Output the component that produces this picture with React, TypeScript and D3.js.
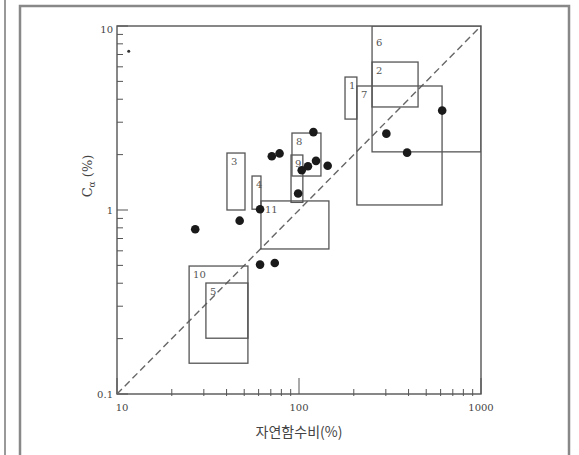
import React from 'react';
import * as d3 from 'd3';

// natural water content (%) and C-alpha (%) of the scattered points
const pointW = [26.9, 47.2, 61.1, 61.1, 73.6, 70.9, 78.2, 98.9, 103.5, 112, 124, 120, 143.7, 302, 392.6, 612];
const pointC = [0.786, 0.875, 1.01, 0.505, 0.515, 1.96, 2.03, 1.23, 1.645, 1.73, 1.85, 2.65, 1.74, 2.6, 2.05, 3.47];

// ranges for each soil deposit
const boxLabels = ['6', '2', '1', '7', '8', '9', '3', '4', '11', '10', '5'];
const boxWMin = [252, 252, 179, 208, 91.5, 90.4, 40.2, 55.2, 61.8, 24.9, 30.8];
const boxWMax = [1000, 451, 208, 611, 132, 105, 50.5, 61.8, 146, 52.4, 52.4];
const boxCMin = [2.07, 3.63, 3.12, 1.065, 1.53, 1.1, 1.0, 1.01, 0.614, 0.147, 0.201];
const boxCMax = [10, 6.37, 5.28, 4.72, 2.62, 1.99, 2.04, 1.53, 1.12, 0.496, 0.401];

// one odd tiny mark near the top left
const starW = [11.6];
const starC = [7.3];

const xTicks = [10, 100, 1000];
const xTickLabels = ['10', '100', '1000'];
const yTicks = [0.1, 1, 10];
const yTickLabels = ['0.1', '1', '10'];

const line = '#555';

export default function App() {
  const x = d3.scaleLog().domain([10, 1000]).range([117, 481]);
  const y = d3.scaleLog().domain([0.1, 10]).range([394, 26]);

  const xMinor: number[] = [];
  const yMinor: number[] = [];
  [10, 100].forEach(d => d3.range(2, 10).forEach(k => xMinor.push(d * k)));
  [0.1, 1].forEach(d => d3.range(2, 10).forEach(k => yMinor.push(d * k)));

  const [x0, x1] = x.range();
  const [y0, y1] = y.range();

  return (
    <svg width={579} height={455} style={{ position: 'absolute', left: 0, top: 0, background: '#fff' }}
      fontFamily="'DejaVu Serif', 'Liberation Serif', serif">
      <defs>
        <clipPath id="plot">
          <rect x={x0} y={y1} width={x1 - x0} height={y0 - y1} />
        </clipPath>
      </defs>

      {/* page frame */}
      <line x1={5} x2={5} y1={0} y2={455} stroke="#999" strokeWidth={2} />
      <path d="M20,455 V6 H569 V455" fill="none" stroke="#888" strokeWidth={2.5} />

      {/* plot frame */}
      <rect x={x0} y={y1} width={x1 - x0} height={y0 - y1} fill="none" stroke={line} strokeWidth={1.4} />

      {/* minor ticks */}
      {xMinor.map(d => (
        <line key={'xm' + d} x1={x(d)} x2={x(d)} y1={y0 + 2} y2={y0 - 5} stroke={line} strokeWidth={1} />
      ))}
      {yMinor.map(d => (
        <line key={'ym' + d} x1={x0} x2={x0 + 6} y1={y(d)} y2={y(d)} stroke={line} strokeWidth={1} />
      ))}
      {/* major ticks */}
      {xTicks.map(d => (
        <line key={'xM' + d} x1={x(d)} x2={x(d)} y1={y0} y2={y0 - 16} stroke={line} strokeWidth={1} />
      ))}
      {yTicks.map(d => (
        <line key={'yM' + d} x1={x0} x2={x0 + 11} y1={y(d)} y2={y(d)} stroke={line} strokeWidth={1} />
      ))}

      {xTicks.map((d, i) => (
        <text key={'xl' + d} x={x(d) + (i === 0 ? 5 : 0)} y={y0 + 17} fontSize={10} fill="#444" textAnchor="middle">
          {xTickLabels[i]}
        </text>
      ))}
      {yTicks.map((d, i) => (
        <text key={'yl' + d} x={x0 - 4} y={y(d) + (i === 2 ? 3 : 0)} dy="0.35em" fontSize={10} fill="#444" textAnchor="end">
          {yTickLabels[i]}
        </text>
      ))}

      {/* dashed reference line */}
      <line x1={x(10)} y1={y(0.1)} x2={x(1000)} y2={y(10)} stroke="#666" strokeWidth={1.4} strokeDasharray="7,4" />

      {/* boxes */}
      <g clipPath="url(#plot)">
        {boxLabels.map((lab, i) => (
          <rect key={'b' + i}
            x={x(boxWMin[i])} y={y(boxCMax[i])}
            width={x(boxWMax[i]) - x(boxWMin[i])} height={y(boxCMin[i]) - y(boxCMax[i])}
            fill="none" stroke={line} strokeWidth={1.3} />
        ))}
      </g>
      {boxLabels.map((lab, i) => (
        <text key={'bl' + i} x={x(boxWMin[i]) + 4} y={Math.max(y(boxCMax[i]), y1 + 8) + 12}
          fontSize={10} fill="#555">{lab}</text>
      ))}

      {/* points */}
      {pointW.map((w, i) => (
        <circle key={'p' + i} cx={x(w)} cy={y(pointC[i])} r={4.3} fill="#1a1a1a" />
      ))}
      {starW.map((w, i) => (
        <circle key={'s' + i} cx={x(w)} cy={y(starC[i])} r={1.5} fill="#333" />
      ))}

      {/* axis titles */}
      <text x={(x0 + x1) / 2} y={437} fontSize={14} fill="#444" textAnchor="middle"
        fontFamily="'Noto Sans CJK KR', sans-serif">자연함수비(%)</text>
      <text transform={`translate(92,176) rotate(-90)`} fontSize={13} fill="#444" textAnchor="middle">
        C<tspan fontSize={9} dy={3}>α</tspan><tspan dy={-3}> (%)</tspan>
      </text>
    </svg>
  );
}
